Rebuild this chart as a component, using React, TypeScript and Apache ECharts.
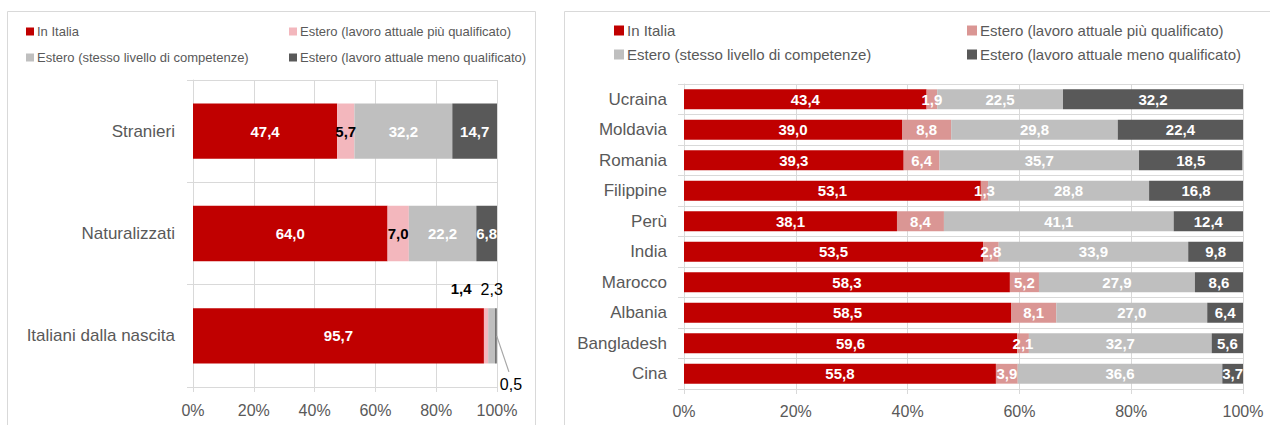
import React, { useEffect, useRef } from "react";
import * as echarts from "echarts";

const seriesNames = [
  "In Italia",
  "Estero (lavoro attuale più qualificato)",
  "Estero (stesso livello di competenze)",
  "Estero (lavoro attuale meno qualificato)",
];

const leftCategories = ["Stranieri", "Naturalizzati", "Italiani dalla nascita"];
const leftInItalia = [47.4, 64.0, 95.7];
const leftPiuQualificato = [5.7, 7.0, 1.4];
const leftStessoLivello = [32.2, 22.2, 2.3];
const leftMenoQualificato = [14.7, 6.8, 0.5];

const rightCategories = [
  "Ucraina", "Moldavia", "Romania", "Filippine", "Perù",
  "India", "Marocco", "Albania", "Bangladesh", "Cina",
];
const rightInItalia = [43.4, 39.0, 39.3, 53.1, 38.1, 53.5, 58.3, 58.5, 59.6, 55.8];
const rightPiuQualificato = [1.9, 8.8, 6.4, 1.3, 8.4, 2.8, 5.2, 8.1, 2.1, 3.9];
const rightStessoLivello = [22.5, 29.8, 35.7, 28.8, 41.1, 33.9, 27.9, 27.0, 32.7, 36.6];
const rightMenoQualificato = [32.2, 22.4, 18.5, 16.8, 12.4, 9.8, 8.6, 6.4, 5.6, 3.7];

const xTicks = { min: 0, max: 100, interval: 20 };

const FONT = "'Liberation Sans', Arial, sans-serif";
const GRID_COLOR = "#D9D9D9";
const TEXT_COLOR = "#595959";
const leftColors = ["#C00000", "#F3B7BD", "#BFBFBF", "#595959"];
const rightColors = ["#C00000", "#DA9694", "#BFBFBF", "#595959"];

const fmt = (v: number) => v.toFixed(1).replace(".", ",");

// the row of the left chart whose small values are labelled outside the bar
const outsideRow = 2;
const leaderDx = 15;
const leaderDy = 49;

function valueAxis(fontSize: number, margin: number) {
  return {
    type: "value",
    min: xTicks.min,
    max: xTicks.max,
    interval: xTicks.interval,
    axisLine: { show: true, lineStyle: { color: GRID_COLOR } },
    axisTick: { show: true, length: 5, lineStyle: { color: GRID_COLOR } },
    splitLine: { show: true, lineStyle: { color: GRID_COLOR } },
    axisLabel: {
      formatter: "{value}%",
      color: TEXT_COLOR,
      fontFamily: FONT,
      fontSize,
      margin,
    },
  };
}

function categoryAxis(data: string[], fontSize: number, margin: number) {
  return {
    type: "category",
    data,
    inverse: true,
    axisLine: { show: true, lineStyle: { color: GRID_COLOR } },
    axisTick: { show: true, length: 6, lineStyle: { color: GRID_COLOR } },
    splitLine: { show: true, lineStyle: { color: GRID_COLOR } },
    axisLabel: { color: TEXT_COLOR, fontFamily: FONT, fontSize, margin },
  };
}

function legends(
  iconLeft: number[],
  rowTop: number[],
  size: number,
  fontSize: number
) {
  const pos = [
    [0, 0],
    [1, 0],
    [0, 1],
    [1, 1],
  ];
  return seriesNames.map((name, i) => ({
    data: [name],
    left: iconLeft[pos[i][0]],
    top: rowTop[pos[i][1]],
    padding: 0,
    icon: "rect",
    itemWidth: size,
    itemHeight: size,
    selectedMode: false,
    textStyle: { color: TEXT_COLOR, fontFamily: FONT, fontSize, padding: [0, 0, 0, -2] },
  }));
}

const leftBorder = {
  id: "border",
  type: "rect",
  z: -10,
  silent: true,
  shape: { x: 7.5, y: 11.5, width: 528, height: 440 },
  style: { fill: "none", stroke: GRID_COLOR, lineWidth: 1 },
};

function buildLeft() {
  const values = [leftInItalia, leftPiuQualificato, leftStessoLivello, leftMenoQualificato];
  const series = values.map((arr, si) => ({
    name: seriesNames[si],
    type: "bar",
    stack: "total",
    barWidth: "54%",
    itemStyle: { color: leftColors[si] },
    label: {
      show: true,
      position: "inside",
      formatter: (p: any) => fmt(p.value),
      color: si === 1 ? "#000" : "#fff",
      fontFamily: FONT,
      fontWeight: "bold",
      fontSize: 15,
    },
    labelLayout:
      si === 3
        ? (p: any) => (p.dataIndex === outsideRow ? { dx: leaderDx, dy: leaderDy } : {})
        : undefined,
    data: arr.map((v, di) => {
      if (di !== outsideRow) return { value: v };
      if (si === 1)
        return {
          value: v,
          label: { position: "top", distance: 12, offset: [-25, 0], color: "#000", fontWeight: "bold" },
        };
      if (si === 2)
        return {
          value: v,
          label: { position: "top", distance: 11, color: "#000", fontWeight: "normal", fontSize: 16 },
        };
      if (si === 3)
        return {
          value: v,
          label: { color: "#000", fontWeight: "normal", fontSize: 16 },
        };
      return { value: v };
    }),
  }));
  return {
    animation: false,
    backgroundColor: "#fff",
    legend: legends([26, 289], [25, 51], 8, 13),
    grid: { left: 193, right: 53, top: 80, bottom: 38, containLabel: false, outerBoundsMode: "none" },
    xAxis: valueAxis(16, 15),
    yAxis: categoryAxis(leftCategories, 17, 18),
    graphic: [leftBorder],
    series,
  };
}

function buildRight() {
  const values = [rightInItalia, rightPiuQualificato, rightStessoLivello, rightMenoQualificato];
  const series = values.map((arr, si) => ({
    name: seriesNames[si],
    type: "bar",
    stack: "total",
    barWidth: "65%",
    itemStyle: { color: rightColors[si] },
    label: {
      show: true,
      position: "inside",
      formatter: (p: any) => fmt(p.value),
      color: "#fff",
      fontFamily: FONT,
      fontWeight: "bold",
      fontSize: 15,
    },
    data: arr,
  }));
  return {
    animation: false,
    backgroundColor: "#fff",
    legend: legends([64, 417], [23, 47], 10, 15),
    grid: { left: 134, right: 27, top: 84, bottom: 36, containLabel: false, outerBoundsMode: "none" },
    xAxis: valueAxis(16, 14),
    yAxis: categoryAxis(rightCategories, 17, 17),
    graphic: [
      {
        type: "rect",
        z: -10,
        silent: true,
        shape: { x: 14.5, y: 11.5, width: 740, height: 440 },
        style: { fill: "none", stroke: GRID_COLOR, lineWidth: 1 },
      },
    ],
    series,
  };
}

export default function App() {
  const leftRef = useRef<HTMLDivElement>(null);
  const rightRef = useRef<HTMLDivElement>(null);

  useEffect(() => {
    const l = echarts.init(leftRef.current!, undefined, { renderer: "svg" });
    const r = echarts.init(rightRef.current!, undefined, { renderer: "svg" });
    l.setOption(buildLeft() as any);
    r.setOption(buildRight() as any);

    // leader line from the end of the last small segment to its moved label
    const end =
      leftInItalia[outsideRow] +
      leftPiuQualificato[outsideRow] +
      leftStessoLivello[outsideRow] +
      leftMenoQualificato[outsideRow];
    const mid = end - leftMenoQualificato[outsideRow] / 2;
    const p0 = l.convertToPixel({ xAxisIndex: 0, yAxisIndex: 0 }, [end, outsideRow]) as number[];
    const pm = l.convertToPixel({ xAxisIndex: 0, yAxisIndex: 0 }, [mid, outsideRow]) as number[];
    if (p0 && pm) {
      l.setOption({
        graphic: [
          leftBorder,
          {
            id: "leader",
            type: "line",
            silent: true,
            z: 50,
            shape: {
              x1: p0[0],
              y1: p0[1],
              x2: pm[0] + leaderDx - 2,
              y2: pm[1] + leaderDy - 13,
            },
            style: { stroke: "#A6A6A6", lineWidth: 1.2 },
          },
        ],
      } as any);
    }

    return () => {
      l.dispose();
      r.dispose();
    };
  }, []);

  return (
    <div
      style={{
        position: "absolute",
        left: 0,
        top: 0,
        width: 1270,
        height: 425,
        overflow: "hidden",
        background: "#fff",
      }}
    >
      <div ref={leftRef} style={{ position: "absolute", left: 0, top: 0, width: 550, height: 425 }} />
      <div ref={rightRef} style={{ position: "absolute", left: 550, top: 0, width: 720, height: 425 }} />
    </div>
  );
}
